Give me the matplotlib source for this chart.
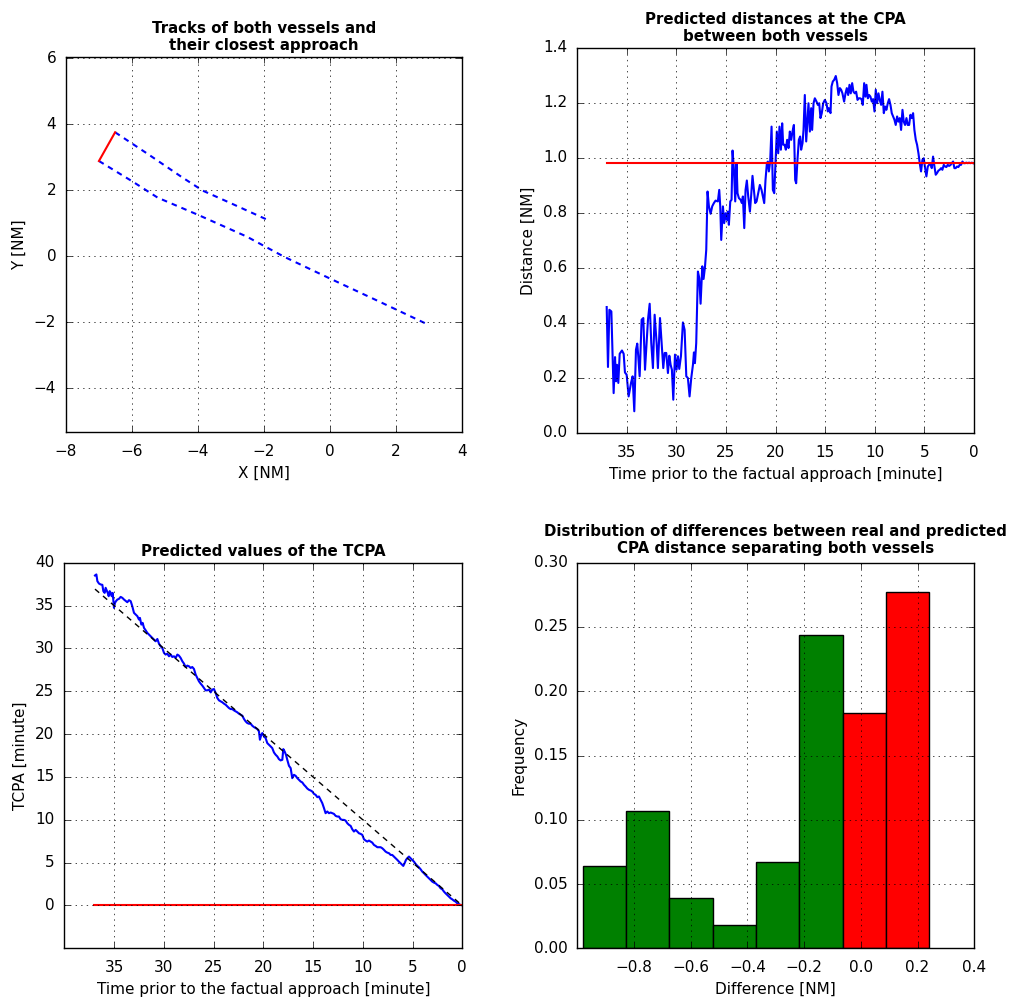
import numpy as np
import matplotlib
matplotlib.use("Agg")
import matplotlib.pyplot as plt

plt.style.use('classic')
plt.rcParams['font.family'] = ['DejaVu Sans']
plt.rcParams['font.size'] = 11

# --- tracks of both vessels [NM]
own_x = [-7.0, -6.0, -5.22, -4.0, -2.52, -1.39, 0.0, 1.5, 2.94]
own_y = [2.88, 2.27, 1.77, 1.25, 0.59, -0.02, -0.68, -1.38, -2.06]
other_x = [-6.51, -5.5, -4.5, -3.85, -3.0, -1.92]
other_y = [3.75, 3.08, 2.4, 1.98, 1.6, 1.11]
cpa_x = [-7.0, -6.51]
cpa_y = [2.88, 3.75]

# --- predicted CPA distance [NM] vs time before approach [min]
t_dist = [37.01, 36.88, 36.74, 36.54, 36.31, 36.17, 36.07, 35.97, 35.84, 35.70,
          35.47, 35.30, 35.17, 35.00, 34.80, 34.56, 34.40, 34.23, 34.06, 33.93,
          33.83, 33.69, 33.49, 33.32, 33.15, 32.99, 32.85, 32.68, 32.52, 32.35,
          32.18, 31.98, 31.85, 31.64, 31.48, 31.31, 31.17, 31.01, 30.84, 30.70,
          30.57, 30.44, 30.30, 30.13, 29.97, 29.83, 29.70, 29.53, 29.33, 29.16,
          28.99, 28.83, 28.66, 28.49, 28.32, 28.22, 28.12, 27.99, 27.82, 27.68,
          27.55, 27.38, 27.25, 27.11, 26.98, 26.85, 26.71, 26.54, 26.38, 26.21,
          26.04, 25.81, 25.67, 25.57, 25.47, 25.30, 25.17, 25.03, 24.90, 24.80,
          24.70, 24.56, 24.43, 24.33, 24.19, 24.06, 23.93, 23.83, 23.69, 23.52,
          23.39, 23.29, 23.15, 23.02, 22.89, 22.75, 22.58, 22.45, 22.32, 22.18,
          22.05, 21.91, 21.74, 21.58, 21.41, 21.24, 21.14, 21.01, 20.87, 20.77,
          20.67, 20.54, 20.40, 20.27, 20.13, 20.00, 19.87, 19.73, 19.60, 19.46,
          19.33, 19.23, 19.09, 18.96, 18.83, 18.69, 18.56, 18.42, 18.29, 18.15,
          18.02, 17.92, 17.79, 17.65, 17.52, 17.42, 17.28, 17.18, 17.05, 16.91,
          16.78, 16.68, 16.54, 16.41, 16.31, 16.17, 16.04, 15.87, 15.74, 15.60,
          15.47, 15.34, 15.20, 15.03, 14.87, 14.73, 14.63, 14.46, 14.36, 14.23,
          14.09, 13.93, 13.79, 13.66, 13.52, 13.39, 13.26, 13.09, 12.95, 12.82,
          12.68, 12.55, 12.42, 12.28, 12.15, 12.01, 11.88, 11.74, 11.61, 11.48,
          11.34, 11.21, 11.07, 10.94, 10.84, 10.70, 10.57, 10.44, 10.30, 10.17,
          10.03, 9.90, 9.77, 9.63, 9.50, 9.36, 9.23, 9.09, 8.96, 8.83,
          8.69, 8.56, 8.42, 8.29, 8.15, 8.02, 7.89, 7.75, 7.62, 7.48,
          7.35, 7.21, 7.08, 6.95, 6.81, 6.68, 6.54, 6.41, 6.28, 6.14,
          6.01, 5.87, 5.74, 5.60, 5.47, 5.34, 5.20, 5.07, 4.93, 4.80,
          4.66, 4.53, 4.40, 4.26, 4.13, 3.99, 3.86, 3.73, 3.59, 3.46,
          3.32, 3.19, 3.05, 2.92, 2.79, 2.65, 2.52, 2.38, 2.25, 2.11,
          1.98, 1.85, 1.71, 1.58, 1.44, 1.31, 1.17, 1.04, 0.91, 0.77,
          0.64, 0.50, 0.37, 0.23, 0.10, 0.00]
cpa_dist = [0.458, 0.240, 0.448, 0.442, 0.145, 0.276, 0.188, 0.248, 0.182, 0.288,
            0.300, 0.288, 0.220, 0.212, 0.133, 0.182, 0.206, 0.079, 0.303, 0.325,
            0.279, 0.206, 0.412, 0.418, 0.230, 0.327, 0.412, 0.470, 0.327, 0.236,
            0.430, 0.327, 0.236, 0.418, 0.327, 0.236, 0.291, 0.291, 0.218, 0.281,
            0.248, 0.230, 0.121, 0.285, 0.230, 0.279, 0.233, 0.279, 0.402, 0.375,
            0.206, 0.200, 0.133, 0.200, 0.248, 0.293, 0.254, 0.327, 0.587, 0.563,
            0.470, 0.606, 0.560, 0.603, 0.666, 0.878, 0.824, 0.797, 0.824, 0.836,
            0.845, 0.842, 0.884, 0.824, 0.702, 0.824, 0.763, 0.799, 0.775, 0.805,
            0.757, 0.842, 0.848, 1.027, 0.957, 0.842, 0.981, 0.872, 0.854, 0.848,
            0.836, 0.860, 0.745, 0.884, 0.918, 0.860, 0.805, 0.866, 0.935, 0.884,
            0.836, 0.842, 0.872, 0.902, 0.884, 0.854, 0.836, 0.920, 0.981, 0.987,
            0.951, 0.987, 1.114, 0.884, 0.872, 0.981, 1.096, 1.017, 1.114, 1.030,
            1.126, 1.048, 1.048, 1.030, 1.066, 1.036, 1.096, 1.066, 1.096, 1.120,
            0.920, 0.908, 0.993, 1.066, 1.078, 1.030, 1.054, 1.102, 1.229, 1.060,
            1.139, 1.199, 1.096, 1.181, 1.102, 1.199, 1.217, 1.205, 1.193, 1.199,
            1.145, 1.163, 1.199, 1.211, 1.199, 1.169, 1.181, 1.163, 1.260, 1.278,
            1.284, 1.298, 1.272, 1.229, 1.254, 1.248, 1.235, 1.205, 1.235, 1.254,
            1.229, 1.266, 1.235, 1.272, 1.241, 1.235, 1.241, 1.211, 1.217, 1.217,
            1.214, 1.193, 1.272, 1.223, 1.266, 1.217, 1.229, 1.223, 1.205, 1.214,
            1.169, 1.248, 1.199, 1.235, 1.211, 1.193, 1.241, 1.163, 1.187, 1.175,
            1.199, 1.214, 1.193, 1.163, 1.151, 1.139, 1.120, 1.151, 1.132, 1.145,
            1.102, 1.175, 1.132, 1.120, 1.145, 1.120, 1.120, 1.157, 1.145, 1.163,
            1.102, 1.066, 1.048, 1.017, 0.981, 0.951, 0.993, 0.999, 0.963, 0.933,
            0.969, 0.975, 0.981, 0.963, 1.005, 0.969, 0.939, 0.945, 0.954, 0.957,
            0.963, 0.957, 0.975, 0.969, 0.967, 0.975, 0.971, 0.974, 0.981, 0.987,
            0.963, 0.963, 0.969, 0.967, 0.975, 0.975, 0.987, 0.981, 0.981, 0.983,
            0.981, 0.983, 0.981, 0.983, 0.981, 0.980]
real_cpa = 0.98
t_span = [37.0, 0.0]

# --- predicted TCPA [min]
t_tcpa = [36.92, 36.78, 36.68, 36.52, 36.35, 36.18, 36.08, 35.95, 35.85, 35.75,
          35.64, 35.54, 35.44, 35.34, 35.24, 35.14, 35.01, 34.91, 34.81, 34.67,
          34.51, 34.34, 34.17, 34.00, 33.80, 33.67, 33.50, 33.33, 33.17, 33.00,
          32.83, 32.66, 32.50, 32.40, 32.26, 32.13, 31.99, 31.83, 31.66, 31.49,
          31.32, 31.16, 30.99, 30.82, 30.65, 30.49, 30.32, 30.15, 29.98, 29.82,
          29.65, 29.48, 29.31, 29.15, 28.98, 28.81, 28.64, 28.48, 28.31, 28.14,
          27.97, 27.81, 27.64, 27.47, 27.30, 27.14, 26.97, 26.80, 26.63, 26.47,
          26.30, 26.13, 25.96, 25.80, 25.63, 25.46, 25.29, 25.13, 24.96, 24.79,
          24.62, 24.46, 24.29, 24.12, 23.95, 23.79, 23.62, 23.45, 23.28, 23.12,
          22.95, 22.78, 22.61, 22.45, 22.28, 22.11, 21.94, 21.78, 21.61, 21.44,
          21.27, 21.11, 20.94, 20.77, 20.60, 20.44, 20.34, 20.20, 20.10, 19.93,
          19.77, 19.60, 19.43, 19.26, 19.10, 18.93, 18.76, 18.59, 18.43, 18.26,
          18.09, 17.99, 17.86, 17.72, 17.59, 17.42, 17.25, 17.09, 16.92, 16.75,
          16.58, 16.42, 16.25, 16.08, 15.91, 15.75, 15.58, 15.41, 15.24, 15.08,
          14.91, 14.74, 14.57, 14.41, 14.24, 14.07, 13.90, 13.74, 13.57, 13.40,
          13.23, 13.07, 12.90, 12.73, 12.56, 12.40, 12.23, 12.06, 11.89, 11.73,
          11.56, 11.39, 11.22, 11.06, 10.89, 10.72, 10.55, 10.39, 10.22, 10.05,
          9.88, 9.72, 9.55, 9.38, 9.21, 9.05, 8.88, 8.71, 8.54, 8.38,
          8.21, 8.04, 7.87, 7.71, 7.54, 7.37, 7.20, 7.04, 6.87, 6.70,
          6.53, 6.37, 6.20, 6.03, 5.93, 5.80, 5.66, 5.53, 5.36, 5.19,
          5.03, 4.86, 4.69, 4.52, 4.36, 4.19, 4.02, 3.85, 3.69, 3.52,
          3.35, 3.18, 3.02, 2.85, 2.68, 2.51, 2.35, 2.18, 2.01, 1.84,
          1.68, 1.51, 1.34, 1.17, 1.01, 0.84, 0.67, 0.50, 0.34, 0.17, 0.00]
tcpa = [38.51, 38.63, 37.85, 37.57, 37.46, 37.42, 36.68, 36.48, 37.07, 36.79,
        36.48, 36.09, 36.68, 36.48, 36.09, 36.48, 34.73, 35.31, 35.51, 35.70,
        35.78, 36.01, 35.90, 35.70, 35.51, 35.39, 35.63, 35.51, 34.92, 34.15,
        33.95, 33.76, 33.37, 33.56, 32.78, 32.98, 32.39, 32.12, 31.81, 31.61,
        31.42, 31.22, 31.03, 30.83, 31.10, 30.56, 30.25, 30.05, 29.47, 29.28,
        29.39, 29.08, 29.28, 29.00, 29.08, 28.89, 29.28, 29.16, 28.89, 28.50,
        28.22, 27.83, 27.99, 27.91, 27.72, 27.83, 27.60, 26.94, 26.55, 26.16,
        25.89, 25.66, 25.38, 25.11, 25.11, 25.19, 24.87, 25.19, 25.26, 24.80,
        24.21, 23.94, 23.82, 23.71, 23.55, 23.43, 23.24, 23.04, 22.92, 22.92,
        22.77, 22.65, 22.54, 22.38, 22.27, 22.15, 21.76, 21.49, 21.29, 21.21,
        21.21, 20.98, 20.82, 20.71, 20.59, 20.32, 19.34, 19.93, 20.12, 19.73,
        19.54, 18.95, 18.76, 18.56, 18.37, 17.86, 17.59, 17.39, 17.08, 16.93,
        17.00, 18.25, 17.98, 17.59, 17.00, 16.30, 16.03, 14.86, 15.25, 15.13,
        14.86, 14.67, 14.47, 14.36, 14.08, 13.89, 13.65, 13.50, 13.42, 13.30,
        13.03, 12.91, 12.64, 12.72, 12.33, 11.94, 11.36, 10.77, 10.97, 10.77,
        10.85, 10.77, 10.69, 10.46, 10.38, 10.38, 10.07, 9.99, 9.99, 9.91,
        9.60, 9.41, 9.29, 8.90, 8.63, 8.82, 8.63, 8.43, 8.36, 8.24,
        7.73, 7.58, 7.46, 7.58, 7.46, 7.34, 7.07, 6.95, 6.80, 6.80,
        6.80, 6.68, 6.49, 6.29, 6.17, 6.10, 5.90, 5.90, 5.71, 5.51,
        5.32, 5.12, 4.93, 4.73, 4.62, 4.93, 5.32, 5.51, 5.71, 5.51,
        5.32, 5.12, 4.85, 4.62, 4.46, 4.23, 3.95, 3.76, 3.56, 3.37,
        3.17, 2.98, 2.79, 2.67, 2.59, 2.40, 2.28, 2.01, 1.89, 1.62,
        1.42, 1.23, 1.03, 0.84, 0.72, 0.56, 0.45, 0.25, 0.18, 0.06, 0.02]
true_t = [36.92, 0.0]

# --- histogram of differences
bin_edges = [-0.981, -0.828, -0.675, -0.523, -0.370, -0.217, -0.064, 0.089, 0.241]
freq = [0.064, 0.107, 0.039, 0.018, 0.067, 0.244, 0.183, 0.277]

fig = plt.figure(figsize=(10.1, 9.97), dpi=100, facecolor='white')
DASH = (4.0, 3.6)


def style(ax):
    ax.grid(True)
    ax.tick_params(axis='x', which='major', pad=8.5, labelsize=11)
    ax.tick_params(axis='y', which='major', pad=7, labelsize=11)


# top left
ax1 = fig.add_axes([0.0653, 0.5667, 0.392, 0.3761])
ax1.plot(own_x, own_y, 'b--', lw=1.5, dashes=DASH)
ax1.plot(other_x, other_y, 'b--', lw=1.5, dashes=DASH)
ax1.plot(cpa_x, cpa_y, 'r-', lw=1.5)
ax1.set_xlim(-8, 4)
ax1.set_ylim(-5.33, 6.03)
ax1.set_xticks(np.arange(-8, 5, 2))
ax1.set_yticks(np.arange(-4, 7, 2))
ax1.set_xlabel('X [NM]')
ax1.set_ylabel('Y [NM]')
ax1.set_title('Tracks of both vessels and\ntheir closest approach', fontweight='bold', fontsize=10.8)
style(ax1)

# top right
ax2 = fig.add_axes([0.5713, 0.5657, 0.3931, 0.3862])
ax2.plot(t_dist, cpa_dist, 'b-', lw=1.5)
ax2.plot(t_span, [real_cpa, real_cpa], 'r-', lw=1.5)
ax2.set_xlim(40, 0)
ax2.set_ylim(0, 1.4)
ax2.set_xticks(np.arange(35, -1, -5))
ax2.set_yticks(np.round(np.arange(0, 1.41, 0.2), 1))
ax2.yaxis.set_major_formatter(matplotlib.ticker.FormatStrFormatter('%.1f'))
ax2.set_xlabel('Time prior to the factual approach [minute]')
ax2.set_ylabel('Distance [NM]')
ax2.set_title('Predicted distances at the CPA\nbetween both vessels', fontweight='bold', fontsize=10.8)
style(ax2)

# bottom left
ax3 = fig.add_axes([0.0637, 0.0488, 0.394, 0.3868])
ax3.plot(t_tcpa, tcpa, 'b-', lw=1.5)
ax3.plot(true_t, true_t, 'k--', lw=1.0, dashes=DASH)
ax3.plot(t_span, [0, 0], 'r-', lw=1.5)
ax3.set_xlim(40, 0)
ax3.set_ylim(-5, 40)
ax3.set_xticks(np.arange(35, -1, -5))
ax3.set_yticks(np.arange(0, 41, 5))
ax3.set_xlabel('Time prior to the factual approach [minute]')
ax3.set_ylabel('TCPA [minute]')
ax3.set_title('Predicted values of the TCPA', fontweight='bold', fontsize=10.8)
style(ax3)

# bottom right
ax4 = fig.add_axes([0.5716, 0.0488, 0.393, 0.3868])
lefts = np.array(bin_edges[:-1])
widths = np.diff(bin_edges)
colors = ['g' if (l + w) < 0 else 'r' for l, w in zip(lefts, widths)]
ax4.bar(lefts, freq, width=widths, align='edge', color=colors, edgecolor='k')
ax4.set_xlim(-1.0, 0.4)
ax4.set_ylim(0, 0.30)
ax4.set_xticks(np.round(np.arange(-0.8, 0.41, 0.2), 1) + 0.0)
ax4.set_yticks(np.round(np.arange(0, 0.301, 0.05), 2))
ax4.yaxis.set_major_formatter(matplotlib.ticker.FormatStrFormatter('%.2f'))
ax4.xaxis.set_major_formatter(matplotlib.ticker.FuncFormatter(
    lambda v, p: ('%.1f' % v).replace('-0.0', '0.0').replace('-', '\u2212')))
ax4.set_xlabel('Difference [NM]')
ax4.set_ylabel('Frequency')
ax4.set_title('Distribution of differences between real and predicted\nCPA distance separating both vessels',
              fontweight='bold', fontsize=10.8, pad=7)
style(ax4)

fig.savefig('out.png', dpi=100, facecolor='white')
